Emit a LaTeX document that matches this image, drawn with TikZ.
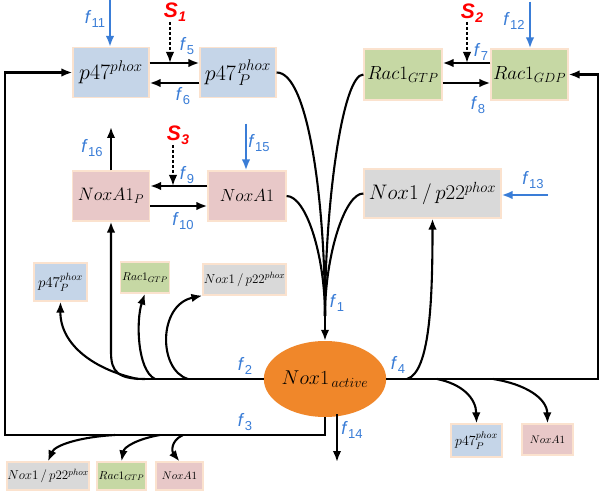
\RequirePackage{fix-cm}
\documentclass[tikz,border=0pt]{standalone}
\usepackage{fontspec}
\newfontfamily\arial{Liberation Sans}
\usetikzlibrary{arrows.meta,shapes.geometric}
\definecolor{cblue}{RGB}{197,213,232}
\definecolor{cgreen}{RGB}{198,216,164}
\definecolor{cpink}{RGB}{232,200,200}
\definecolor{cgray}{RGB}{217,217,217}
\definecolor{peach}{RGB}{251,226,206}
\definecolor{corange}{RGB}{240,135,42}
\definecolor{fblue}{RGB}{58,125,215}
\definecolor{sred}{RGB}{255,0,0}
\newcommand\fl[1]{\textit{f}\kern0.3pt\raisebox{-4pt}{\fontsize{13}{13}\selectfont #1}}
\newcommand\slab[1]{\textbf{\textit{S}}\kern0.3pt\raisebox{-4pt}{\fontsize{14}{14}\selectfont\bfseries\itshape #1}}
\newcommand\fsz[1]{\fontsize{#1}{#1}\selectfont}
\begin{document}
\begin{tikzpicture}[x=1pt,y=-1pt,
  bx/.style={draw=peach, line width=1.2pt, inner sep=0pt},
  ln/.style={line width=2.1pt, black},
  arr/.style={ln, -{Latex[length=11pt,width=8.5pt]}},
  barr/.style={arr, draw=fblue, fill=fblue},
  sarr/.style={arr, dash pattern=on 3pt off 2pt},
  flab/.style={text=fblue, font=\arial\fsz{18}, inner sep=0pt},
  slabel/.style={text=sred, font=\arial\fsz{21}, inner sep=0pt}]
\useasboundingbox (0,0) rectangle (600,492);
\fill[white] (0,0) rectangle (600,492);

% main boxes
\node[bx, font=\fsz{22}, fill=cblue, minimum width=76, minimum height=50] (p47) at (111,72.5) {$p47^{phox}$};
\node[bx, font=\fsz{22}, fill=cblue, minimum width=76, minimum height=50] (p47P) at (238,72.5) {$p47^{\,phox}_{\,P}$};
\node[bx, font=\fsz{19}, fill=cgreen, minimum width=78, minimum height=51] (rgtp) at (403,74.5) {$Rac1_{GTP}$};
\node[bx, font=\fsz{19}, fill=cgreen, minimum width=77, minimum height=51] (rgdp) at (529.5,74.5) {$Rac1_{GDP}$};
\node[bx, font=\fsz{18}, fill=cpink, minimum width=77, minimum height=50] (nxp) at (111,196) {$NoxA1_{P}$};
\node[bx, font=\fsz{17.5}, fill=cpink, minimum width=78, minimum height=50] (nx) at (247,196) {$NoxA1$};
\node[bx, font=\fsz{21}, fill=cgray, minimum width=137, minimum height=49] (np22) at (432.5,193.5) {$Nox1\,/\,p22^{phox}$};

% small boxes (upper)
\node[bx, font=\fsz{15}, fill=cblue, minimum width=53, minimum height=38] (sp47) at (60.5,282) {$p47^{phox}_{P}$};
\node[bx, font=\fsz{11.5}, fill=cgreen, minimum width=49, minimum height=31] (srac) at (145,277.5) {$Rac1_{GTP}$};
\node[bx, font=\fsz{13}, fill=cgray, minimum width=83, minimum height=31] (snp) at (244.5,279.5) {$Nox1\,/\,p22^{phox}$};

% small boxes (bottom left)
\node[bx, font=\fsz{13}, fill=cgray, minimum width=82, minimum height=28] (bnp) at (48,476) {$Nox1\,/\,p22^{phox}$};
\node[bx, font=\fsz{11.5}, fill=cgreen, minimum width=49, minimum height=28] (brac) at (121.5,476) {$Rac1_{GTP}$};
\node[bx, font=\fsz{11}, fill=cpink, minimum width=47, minimum height=28] (bnx) at (179.5,476) {$NoxA1$};

% small boxes (bottom right)
\node[bx, font=\fsz{14}, fill=cblue, minimum width=51, minimum height=33] (rp47) at (476.5,440.5) {$p47^{phox}_{P}$};
\node[bx, font=\fsz{11}, fill=cpink, minimum width=51, minimum height=31] (rnx) at (547.5,439.5) {$NoxA1$};

% ellipse
\node[ellipse, fill=corange, minimum width=108, minimum height=76, inner sep=0pt, font=\fsz{20}] (ell) at (325,379) {$Nox1_{\,active}$};

% p47 reactions
\draw[arr] (p47.east |- 0,63) -- (p47P.west |- 0,63);
\draw[arr] (p47P.west |- 0,83) -- (p47.east |- 0,83);
\coordinate (s1a) at (170,22); \coordinate (s1b) at (170,63);
\draw[sarr] (s1a) -- (s1b);
\coordinate (f11a) at (110,0);
\draw[barr] (f11a) -- (p47.north -| f11a);

% Rac1 reactions
\draw[arr] (rgdp.west |- 0,63) -- (rgtp.east |- 0,63);
\draw[arr] (rgtp.east |- 0,83) -- (rgdp.west |- 0,83);
\coordinate (s2a) at (467,22); \coordinate (s2b) at (467,63);
\draw[sarr] (s2a) -- (s2b);
\coordinate (f12a) at (530,2);
\draw[barr] (f12a) -- (rgdp.north -| f12a);

% NoxA1 reactions
\draw[arr] (nx.west |- 0,186) -- (nxp.east |- 0,186);
\draw[arr] (nxp.east |- 0,206) -- (nx.west |- 0,206);
\coordinate (s3a) at (173,145); \coordinate (s3b) at (173,186);
\draw[sarr] (s3a) -- (s3b);
\coordinate (f15a) at (246,124);
\draw[barr] (f15a) -- (nx.north -| f15a);
\coordinate (f16b) at (111,127);
\draw[arr] (nxp.north) -- (f16b);
\coordinate (f13a) at (548,195);
\draw[barr] (f13a) -- (np22.east |- f13a);

% f1 convergence
\coordinate (m) at (325,316);
\draw[ln] (p47P.east) .. controls (308,72) and (325,200) .. (m);
\draw[ln] (rgtp.west) .. controls (343,74) and (325,200) .. (m);
\draw[ln] (nx.east) .. controls (306,196) and (325,255) .. (m);
\draw[ln] (np22.west) .. controls (345,193) and (325,255) .. (m);
\draw[arr] (m) -- (ell.north);

% f2 branch
\coordinate (j2) at (137,379);
\draw[ln] (ell.west) -- (j2);
\coordinate (j2a) at (138,379);
\coordinate (j2b) at (145,379);
\coordinate (j2c) at (155,379);
\coordinate (j2d) at (188,379);
\draw[arr] (j2a) .. controls (95,370) and (60,345) .. (sp47.south);
\draw[arr] (j2b) .. controls (118,379) and (111,372) .. (111,352) -- (nxp.south);
\draw[arr] (j2c) .. controls (137,370) and (136,320) .. (srac.south);
\draw[arr] (j2d) .. controls (158,370) and (158,305) .. (snp.south west);

% f4 branch
\coordinate (c4) at (598,379);
\draw[arr] (ell.east) -- (c4) |- (rgdp.east);
\coordinate (j4a) at (407,379);
\coordinate (j4b) at (437,379);
\coordinate (j4c) at (493,379);
\draw[arr] (j4a) .. controls (430,372) and (432.5,300) .. (np22.south);
\draw[arr] (j4b) .. controls (462,384) and (476,398) .. (rp47.north);
\draw[arr] (j4c) .. controls (525,384) and (547,398) .. (rnx.north);

% f3 loop
\coordinate (c3) at (325,435);
\coordinate (c3l) at (5,435);
\draw[arr] (ell.south) -- (c3) -- (c3l) |- (p47.west);
\coordinate (j3a) at (115,435);
\coordinate (j3b) at (160,435);
\coordinate (j3c) at (183,435);
\draw[arr] (j3a) .. controls (80,437) and (55,445) .. (bnp.north);
\draw[arr] (j3b) .. controls (137,439) and (124,447) .. (brac.north);
\draw[arr] (j3c) .. controls (170,441) and (172,452) .. (bnx.north);

% f14
\coordinate (e14) at (337,414);
\coordinate (e14b) at (337,462);
\draw[arr] (e14) -- (e14b);

% labels
\node[flab] (lf11) at (95,19) {\fl{11}};
\node[flab] (lf5) at (187,46) {\fl{5}};
\node[flab] (lf6) at (183,96) {\fl{6}};
\node[flab] (lf7) at (481,52) {\fl{7}};
\node[flab] (lf8) at (478,105) {\fl{8}};
\node[flab] (lf12) at (514,21) {\fl{12}};
\node[flab] (lf16) at (92,148) {\fl{16}};
\node[flab] (lf9) at (187,175) {\fl{9}};
\node[flab] (lf10) at (183,221) {\fl{10}};
\node[flab] (lf15) at (259,143) {\fl{15}};
\node[flab] (lf13) at (533,180) {\fl{13}};
\node[flab] (lf1) at (337,303) {\fl{1}};
\node[flab] (lf2) at (245,366) {\fl{2}};
\node[flab] (lf4) at (398,365) {\fl{4}};
\node[flab] (lf3) at (245,422) {\fl{3}};
\node[flab] (lf14) at (352,430) {\fl{14}};
\node[slabel] (ls1) at (175,12) {\slab{1}};
\node[slabel] (ls2) at (472,13) {\slab{2}};
\node[slabel] (ls3) at (178,135) {\slab{3}};
\end{tikzpicture}
\end{document}
